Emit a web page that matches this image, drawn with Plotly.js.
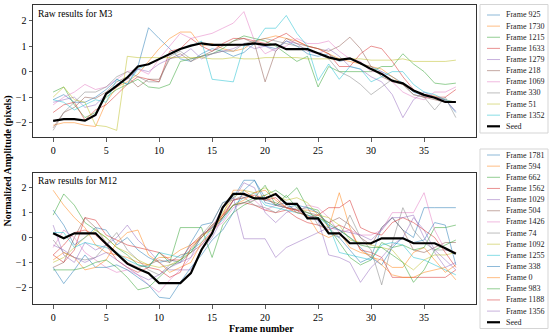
<!DOCTYPE html>
<html><head><meta charset="utf-8">
<script src="https://cdn.plot.ly/plotly-3.0.1.min.js"></script>
<style>html,body{margin:0;padding:0;background:#fff}#chart{width:550px;height:335px}</style>
</head><body><div id="chart"></div>
<script>
// ---------- data ----------
const frameNumber = [0,1,2,3,4,5,6,7,8,9,10,11,12,13,14,15,16,17,18,19,20,21,22,23,24,25,26,27,28,29,30,31,32,33,34,35,36,37,38];
const xTickVals = [0,5,10,15,20,25,30,35];
const yTickVals = [-2,-1,0,1,2];

const m3Labels = ['Frame 925','Frame 1730','Frame 1215','Frame 1633','Frame 1279','Frame 218','Frame 1069','Frame 330','Frame 51','Frame 1352'];
const m3_925  = [-1.10,-0.90,-1.20,-1.20,-1.00,-0.70,-0.30,-0.50,0.20,1.72, 1.30,0.90,0.50,0.40,0.70,0.90,0.80,0.60,0.75,1.10, 1.00,0.90,1.20,1.00,0.70,0.60,0.70,0.40,0.50,0.30, 0.20,0.00,-0.20,-0.45,-0.80,-0.95,-1.00,-1.10,-1.60];
const m3_1730 = [-2.10,-2.00,-2.00,-2.10,-2.15,-1.20,-0.60,-0.40,-0.10,0.40, 0.90,1.30,1.55,1.55,1.00,1.10,0.90,0.80,0.90,1.20, 1.30,1.40,1.30,1.20,1.00,0.90,0.70,0.50,0.40,0.30, 0.20,0.10,-0.20,-0.50,-0.75,-0.90,-0.95,-1.10,-1.20];
const m3_1215 = [-0.80,-0.60,-1.30,-1.80,-1.60,-1.00,-0.70,-0.50,-0.30,-0.60, -0.65,-0.50,0.40,0.50,0.60,0.70,0.90,1.20,1.40,1.30, 1.20,1.00,0.70,0.40,0.60,-0.60,0.20,0.00,0.00,0.00, 0.00,0.20,0.20,0.70,0.30,0.00,-0.45,-0.50,-0.45];
const m3_1633 = [-1.60,-1.30,-1.20,-1.90,-1.50,-1.30,-0.90,-0.50,-0.20,-0.30, -0.40,0.80,0.90,1.30,1.00,0.80,1.10,1.30,1.30,1.20, 1.10,1.30,1.50,1.20,1.00,0.90,0.70,0.20,0.20,0.70, 1.00,0.90,0.40,-0.20,-0.70,-1.00,-1.00,-1.00,-0.70];
const m3_1279 = [-1.20,-1.10,-1.00,-1.40,-1.30,-0.90,-0.50,-0.30,0.10,0.00, 0.30,0.50,0.60,0.90,0.50,0.70,0.80,0.90,1.10,0.90, 1.00,0.80,1.20,1.10,0.80,0.70,0.90,0.60,0.20,0.10, -0.20,-0.40,-0.90,-1.80,-1.10,-0.80,-1.00,-1.10,-1.55];
const m3_218  = [-2.20,-1.60,-1.40,-1.00,-1.05,-0.80,-0.40,-0.20,-0.60,-0.30, -0.30,0.50,0.70,0.40,0.60,0.80,1.00,1.20,1.30,1.10, -0.40,0.80,1.30,1.10,1.00,0.90,0.80,1.00,1.35,0.90, 0.20,-0.20,-0.40,-0.50,-0.90,-1.00,-1.10,-1.20,-1.20];
const m3_1069 = [-1.30,-1.00,-0.80,-0.50,-0.70,-0.60,-0.30,0.00,0.10,-0.10, 0.50,1.00,1.50,1.30,1.40,1.50,1.70,1.90,2.35,1.20, 0.70,0.90,1.00,1.30,1.10,1.10,1.20,0.80,0.50,0.40, 0.00,0.00,-0.40,-0.80,-1.00,-1.10,-0.80,-0.80,-0.60];
const m3_330  = [-2.30,-1.60,-1.20,-0.80,-0.80,-0.60,-0.20,0.00,-0.20,-0.40, -0.40,0.60,0.80,0.50,0.60,0.70,0.80,0.80,1.10,1.20, 1.30,1.20,1.10,1.00,0.90,0.70,0.50,0.00,-0.20,-0.50, -0.90,-0.60,-0.30,-0.50,-0.90,-1.00,-1.50,-1.00,-1.80];
const m3_51   = [-1.00,-0.60,-1.10,-1.20,-2.10,-2.15,-2.30,0.60,0.55,0.55, 0.55,0.55,0.55,0.55,0.55,0.50,0.50,0.55,0.50,0.50, 0.55,0.55,0.55,0.55,0.50,0.50,0.50,0.50,0.50,0.50, 0.45,0.45,0.45,0.50,0.40,0.40,0.40,0.40,0.45];
const m3_1352 = [-1.10,-1.20,-1.50,-1.30,-1.10,-1.20,-0.30,-0.50,0.10,0.30, 0.50,0.70,0.90,1.00,1.20,-0.30,-0.35,-0.40,1.00,1.10, 1.70,1.70,2.20,1.50,1.00,-0.35,0.30,-0.30,0.20,0.10, -0.40,-0.20,0.00,0.00,-0.50,-0.80,-0.90,-1.10,-1.20];
const m3Seed  = [-1.93,-1.86,-1.86,-1.92,-1.70,-0.87,-0.56,-0.23,0.20,0.29, 0.49,0.68,0.89,1.02,1.11,1.05,1.05,1.05,1.06,1.11, 1.05,1.07,0.88,0.88,0.88,0.72,0.56,0.46,0.52,0.33, 0.10,-0.09,-0.36,-0.46,-0.74,-0.91,-1.02,-1.19,-1.19];

const m12Labels = ['Frame 1781','Frame 594','Frame 662','Frame 1562','Frame 1029','Frame 504','Frame 1426','Frame 74','Frame 1092','Frame 1255','Frame 338','Frame 0','Frame 983','Frame 1188','Frame 1356'];
const m12_1781 = [1.10,0.50,-0.30,0.00,0.40,0.30,-0.30,0.00,-0.50,-0.80, -1.00,-0.90,-1.00,-0.20,0.50,0.60,1.40,1.60,2.30,2.30, 1.60,1.30,1.40,1.00,0.90,0.70,0.20,0.00,-0.50,-1.00, -0.80,0.40,0.80,0.30,0.00,1.20,1.20,1.20,1.20];
const m12_594  = [1.90,1.30,0.80,0.40,-0.30,-0.60,-0.70,-0.80,-1.00,-1.10, -0.80,-0.80,-0.50,-0.30,0.00,0.40,0.90,1.90,1.90,1.60, 1.70,1.30,1.20,1.10,1.10,1.00,0.40,1.80,0.40,-0.50, -0.80,-0.90,-1.20,-1.20,-0.60,-0.40,-0.90,-1.40,-1.10];
const m12_662  = [0.90,1.75,1.30,0.60,0.30,0.00,-0.40,-0.70,-1.10,-1.20, -0.60,-1.00,0.40,0.40,0.40,-0.80,0.50,1.00,1.30,1.50, 1.70,1.90,1.60,2.00,1.20,1.10,0.40,-0.20,-0.80,-1.10, -0.90,-0.20,-0.40,-0.30,-0.50,-0.40,0.40,0.40,0.50];
const m12_1562 = [-0.70,-1.00,-0.50,0.80,0.70,0.10,-0.10,-0.30,-0.40,-0.50, -0.60,-0.90,-0.90,-0.30,0.10,0.40,0.80,1.30,1.40,1.30, 1.10,1.00,1.10,0.80,0.60,0.50,0.30,0.50,0.30,-0.50, -0.60,-0.80,-1.60,-1.60,-1.60,-1.60,-1.60,-1.60,-1.30];
const m12_1029 = [0.50,-0.70,-1.00,-0.20,-0.50,-0.30,0.00,0.50,-0.10,-0.50, -1.00,-1.30,-1.30,-1.30,-0.50,0.00,0.80,1.50,2.20,2.00, 1.00,0.60,1.00,1.20,0.80,0.70,-0.70,-0.80,-1.00,-1.80, -1.20,-0.80,-0.30,0.00,0.80,0.30,-0.50,-0.90,-1.30];
const m12_504  = [-1.20,-1.00,0.00,0.80,0.40,-0.20,-0.60,-1.00,-1.20,-1.10, -0.90,-1.00,-0.70,-0.60,-0.30,0.20,0.80,1.50,1.70,1.60, 1.50,1.40,1.20,1.10,1.00,0.90,0.60,0.80,0.50,0.00, -0.30,0.40,0.80,0.30,-0.50,-0.60,-0.40,-0.20,-0.20];
const m12_1426 = [-0.40,0.30,0.00,-0.60,-0.90,-1.20,-1.40,-1.30,-1.50,-1.90, -2.20,-1.70,-1.30,-0.80,-0.30,0.30,0.60,1.20,1.40,1.50, 1.10,1.30,1.20,1.00,1.30,1.20,0.80,0.20,0.30,0.10, 0.10,0.30,1.00,1.00,1.00,1.80,0.30,-0.50,-0.60];
const m12_74   = [-0.10,-0.60,-0.80,-0.90,-0.80,-0.30,0.20,-0.50,-0.90,-1.30, -1.50,-1.10,-1.00,-0.60,0.10,0.60,1.40,1.50,1.60,1.30, 1.20,1.00,1.30,1.10,1.20,0.50,0.40,0.00,0.90,0.00, -0.50,-1.90,-0.20,1.20,0.30,-0.20,-0.50,-0.50,-0.60];
const m12_1092 = [-1.00,-0.80,-0.40,0.00,0.30,0.00,-0.40,-0.60,-0.90,-1.10, -1.20,-1.10,-0.90,-0.50,0.10,0.30,1.00,1.60,1.90,1.80, 2.00,1.70,1.50,1.60,1.40,0.90,0.80,0.50,-0.10,-0.20, -0.30,-0.40,-0.50,-1.00,-1.30,-0.90,-0.70,-0.70,-0.60];
const m12_1255 = [0.20,0.20,-0.40,-0.20,-0.30,-0.40,-0.60,-0.90,-1.10,-1.20, -0.60,-0.70,-0.80,-0.50,-0.20,0.40,0.70,1.30,1.60,1.80, 1.30,1.20,1.10,1.00,0.90,0.80,0.50,-0.60,-0.70,-0.80, -0.90,-0.30,-0.20,-0.30,-0.80,-0.90,-1.10,-1.30,-1.50];
const m12_338  = [-1.20,-1.85,-1.30,-0.70,-1.20,-1.20,-1.10,-1.30,-1.60,-1.90, -2.40,-2.45,-1.80,-1.20,-0.70,-0.10,0.30,1.00,1.90,2.30, 1.40,1.30,1.20,1.30,1.20,1.00,0.50,0.30,0.00,-0.40, -0.80,-1.10,-0.40,0.00,-0.20,-0.10,0.60,0.50,-1.10];
const m12_0    = [-0.90,-0.60,-0.80,-1.30,-1.20,-0.90,-0.20,0.20,0.30,-0.70, -1.00,-1.40,-1.20,-1.00,-0.20,0.20,0.90,1.30,1.50,1.80, 1.90,1.50,1.20,1.00,0.90,0.20,0.00,0.20,-0.40,-0.60, -0.70,-1.10,-1.50,-1.60,-1.60,-1.40,-1.30,-1.20,-1.70];
const m12_983  = [-1.30,-1.30,-1.30,-1.20,-1.00,-0.90,-1.20,-1.60,-2.10,-2.00, -1.60,-1.20,-0.90,-0.60,0.00,0.50,0.80,1.30,1.40,1.60, 2.10,1.30,1.70,1.20,1.00,0.80,0.60,0.30,0.00,-0.30, -0.40,-0.40,-0.70,-1.00,-1.80,-1.30,-0.50,-0.30,-0.10];
const m12_1188 = [-0.70,-0.30,0.20,0.30,0.10,-0.30,-0.90,-1.20,-1.40,-1.20, -1.30,-1.60,-1.40,-0.40,0.00,0.50,0.90,1.50,1.60,1.70, 1.50,1.60,1.20,1.10,0.80,0.90,1.20,1.20,1.50,0.40, 0.20,0.10,0.60,0.80,0.60,0.30,0.00,-0.60,-1.20];
const m12_1356 = [-0.30,-0.50,-0.80,-1.00,-0.80,-0.60,-0.90,-1.20,-1.50,-1.70, -1.50,-1.20,-1.00,-0.80,0.10,0.40,1.20,1.60,-0.05,-0.05, -0.05,-0.80,-0.40,-0.20,0.00,0.20,0.40,0.30,0.20,0.10, -0.10,0.30,0.80,0.80,0.90,0.00,-0.60,-1.20,-1.00];
const m12Seed  = [0.17,-0.03,0.17,0.17,0.17,-0.25,-0.67,-1.05,-1.25,-1.43, -1.83,-1.83,-1.83,-1.43,-0.49,0.17,1.20,1.75,1.75,1.57, 1.57,1.75,1.35,1.35,0.77,0.77,0.17,0.17,-0.23,-0.23, -0.23,-0.03,-0.03,-0.03,-0.23,-0.23,-0.23,-0.43,-0.65];

const m3Series  = [m3_925,m3_1730,m3_1215,m3_1633,m3_1279,m3_218,m3_1069,m3_330,m3_51,m3_1352];
const m12Series = [m12_1781,m12_594,m12_662,m12_1562,m12_1029,m12_504,m12_1426,m12_74,m12_1092,m12_1255,m12_338,m12_0,m12_983,m12_1188,m12_1356];

// ---------- styling ----------
const palette = ['#1f77b4','#ff7f0e','#2ca02c','#d62728','#9467bd','#8c564b','#e377c2','#7f7f7f','#bcbd22','#17becf'];
const FONT = 'Liberation Serif, Times New Roman, serif';
const OP = 0.5;
const W = 550, H = 335, ML = 33, MR = 74, MT = 5, MB = 31;
const PW = W - ML - MR, PH = H - MT - MB;
const px = v => (v - ML) / PW;
const py = v => (H - MB - v) / PH;

const traces = [];
function addPanel(series, labels, seed, xa, ya) {
  series.forEach((s, i) => traces.push({
    x: frameNumber, y: s, xaxis: xa, yaxis: ya, type: 'scatter', mode: 'lines',
    name: labels[i], opacity: OP, line: {color: palette[i % 10], width: 1}, hoverinfo: 'skip'
  }));
  traces.push({x: frameNumber, y: seed, xaxis: xa, yaxis: ya, type: 'scatter', mode: 'lines',
    name: 'Seed', line: {color: '#000', width: 2.2}, hoverinfo: 'skip'});
}
addPanel(m3Series, m3Labels, m3Seed, 'x', 'y');
addPanel(m12Series, m12Labels, m12Seed, 'x2', 'y2');

const shapes = [], annotations = [];
function addLegend(labels, top, bottom, firstY, step) {
  shapes.push({type: 'rect', xref: 'paper', yref: 'paper', x0: px(480), x1: px(548), y0: py(bottom), y1: py(top),
    line: {color: '#d5d5d5', width: 1}, fillcolor: 'rgba(255,255,255,0.9)', layer: 'above'});
  const all = labels.concat(['Seed']);
  all.forEach((lab, i) => {
    const yy = py(firstY + step * i);
    const isSeed = lab === 'Seed';
    shapes.push({type: 'line', xref: 'paper', yref: 'paper', x0: px(487), x1: px(500), y0: yy, y1: yy,
      line: {color: isSeed ? '#000' : palette[i % 10], width: isSeed ? 2.2 : 1}, opacity: isSeed ? 1 : OP, layer: 'above'});
    annotations.push({xref: 'paper', yref: 'paper', x: px(504), y: yy, xanchor: 'left', yanchor: 'middle',
      text: lab, showarrow: false, font: {family: FONT, size: 8, color: '#222'}});
  });
}
addLegend(m3Labels, 4.5, 133, 15, 11.13);
addLegend(m12Labels, 149, 328.5, 155, 11.15);

annotations.push({xref: 'paper', yref: 'paper', x: px(36), y: py(13.3), xanchor: 'left', yanchor: 'middle',
  text: 'Raw results for M3', showarrow: false, font: {family: FONT, size: 9.6, color: '#000'}});
annotations.push({xref: 'paper', yref: 'paper', x: px(36), y: py(180.5), xanchor: 'left', yanchor: 'middle',
  text: 'Raw results for M12', showarrow: false, font: {family: FONT, size: 9.6, color: '#000'}});
annotations.push({xref: 'paper', yref: 'paper', x: px(261), y: py(328), xanchor: 'center', yanchor: 'middle',
  text: '<b>Frame number</b>', showarrow: false, font: {family: FONT, size: 10, color: '#000'}});
annotations.push({xref: 'paper', yref: 'paper', x: px(7.5), y: py(161), xanchor: 'center', yanchor: 'middle', textangle: -90,
  text: '<b>Normalized Amplitude (pixels)</b>', showarrow: false, font: {family: FONT, size: 10, color: '#000'}});

const axisCommon = {showgrid: false, zeroline: false, showline: true, mirror: true, linecolor: '#333', linewidth: 1,
  ticks: 'outside', ticklen: 3.5, tickwidth: 0.8, tickcolor: '#333', tickmode: 'array',
  tickfont: {family: FONT, size: 10, color: '#000'}, fixedrange: true};

const layout = {
  width: W, height: H, margin: {l: ML, r: MR, t: MT, b: MB, pad: 0},
  paper_bgcolor: '#fff', plot_bgcolor: '#fff', showlegend: false,
  xaxis:  Object.assign({}, axisCommon, {domain: [0, 1], anchor: 'y',  range: [-1.9, 39.9], tickvals: xTickVals}),
  yaxis:  Object.assign({}, axisCommon, {domain: [1 - (137 - MT) / PH, 1], anchor: 'x', range: [-2.56, 2.61], tickvals: yTickVals}),
  xaxis2: Object.assign({}, axisCommon, {domain: [0, 1], anchor: 'y2', range: [-1.9, 39.9], tickvals: xTickVals}),
  yaxis2: Object.assign({}, axisCommon, {domain: [0, (H - MB - 173.3) / PH], anchor: 'x2', range: [-2.67, 2.58], tickvals: yTickVals}),
  shapes: shapes, annotations: annotations
};
Plotly.newPlot('chart', traces, layout, {displayModeBar: false, staticPlot: true});
</script>
</body></html>
